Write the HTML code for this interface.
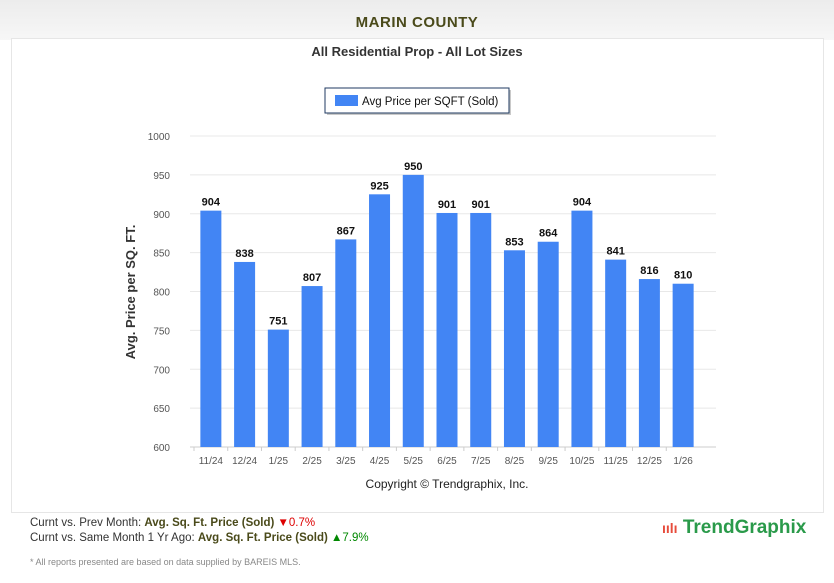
<!DOCTYPE html>
<html><head><meta charset="utf-8"><style>
body{margin:0;width:834px;height:583px;background:#fff;font-family:"Liberation Sans",sans-serif;position:relative;overflow:hidden}
.top{position:absolute;left:0;top:0;width:834px;height:40px;background:linear-gradient(#ececec,#f7f7f7)}
.title{position:absolute;top:14px;width:834px;text-align:center;font-weight:bold;font-size:15px;color:#4a4a1a;letter-spacing:0.5px}
.panel{position:absolute;left:11px;top:38px;width:811px;height:473px;background:#fff;border:1px solid #e6e6e6}
.foot{position:absolute;left:30px;font-size:11.5px;color:#333}
.foot b{color:#4a4a1a}
</style></head><body>
<div class="top"></div>
<div class="title">MARIN COUNTY</div>
<div class="panel"></div>
<svg id="chart" width="834" height="583" style="position:absolute;left:0;top:0">
<text x="417" y="56" text-anchor="middle" font-size="13" font-weight="bold" fill="#333">All Residential Prop - All Lot Sizes</text>
<g>
<rect x="327" y="90" width="184" height="25" fill="#777" opacity="0.4"/>
<rect x="325" y="88" width="184" height="25" fill="#fff" stroke="#1f3a60" stroke-width="1"/>
<rect x="335" y="95" width="23" height="11" fill="#4285f4"/>
<text x="362" y="105" font-size="11.5" fill="#111">Avg Price per SQFT (Sold)</text>
</g>
<text transform="translate(135,292) rotate(-90)" text-anchor="middle" font-size="13" font-weight="bold" fill="#333">Avg. Price per SQ. FT.</text>
<text x="447" y="488" text-anchor="middle" font-size="12" fill="#222">Copyright © Trendgraphix, Inc.</text>
<g id="grid"></g><g id="bars"></g>
</svg>
<div class="foot" style="top:517px">Curnt vs. Prev Month: <b>Avg. Sq. Ft. Price (Sold)</b> <span style="color:#d00">▼0.7%</span></div>
<div class="foot" style="top:532px">Curnt vs. Same Month 1 Yr Ago: <b>Avg. Sq. Ft. Price (Sold)</b> <span style="color:#080">▲7.9%</span></div>
<div class="foot" style="top:557px;font-size:9px;color:#888">* All reports presented are based on data supplied by BAREIS MLS.</div>
<div style="position:absolute;left:662px;top:517px;font-size:19px;font-weight:bold;color:#2a9a4a"><span style="color:#e74c3c;font-size:14px">ıılı</span> TrendGraphix</div>
<script>
const categories=["11/24","12/24","1/25","2/25","3/25","4/25","5/25","6/25","7/25","8/25","9/25","10/25","11/25","12/25","1/26"];
const values=[904,838,751,807,867,925,950,901,901,853,864,904,841,816,810];
const ticks=[600,650,700,750,800,850,900,950,1000];
const NS="http://www.w3.org/2000/svg";
const x0=194,x1=700,yTop=136,yBot=447,ymin=600,ymax=1000;
const band=(x1-x0)/categories.length;
const y=v=>yBot-(v-ymin)/(ymax-ymin)*(yBot-yTop);
const xc=i=>x0+band*(i+0.5);
function mk(t,a,p){const e=document.createElementNS(NS,t);for(const k in a)e.setAttribute(k,a[k]);p.appendChild(e);return e;}
const g=document.getElementById('grid'),b=document.getElementById('bars');
ticks.forEach(t=>{
 const l=mk('line',{x1:x0-4,x2:716,y1:y(t),y2:y(t),stroke:t==ymin?'#ccc':'#e8e8e8'},g);
 
 
 const tx=mk('text',{x:170,y:y(t)+4,'text-anchor':'end','font-size':10,fill:'#555'},g);tx.textContent=t;
 
 
});
categories.forEach((c,i)=>{
 const r=mk('rect',{x:xc(i)-10.5,y:y(values[i]),width:21,height:yBot-y(values[i]),fill:'#4285f4'},b);
 
 
 const v=mk('text',{x:xc(i),y:y(values[i])-5,'text-anchor':'middle','font-size':11,'font-weight':'bold',fill:'#111'},b);v.textContent=values[i];
 
 
 const tk=mk('line',{x1:x0+band*i,x2:x0+band*i,y1:yBot,y2:yBot+4,stroke:'#ccc'},b);
 const xl=mk('text',{x:xc(i),y:yBot+17,'text-anchor':'middle','font-size':10,fill:'#555'},b);xl.textContent=c;
 
 
});
</script>
</body></html>
